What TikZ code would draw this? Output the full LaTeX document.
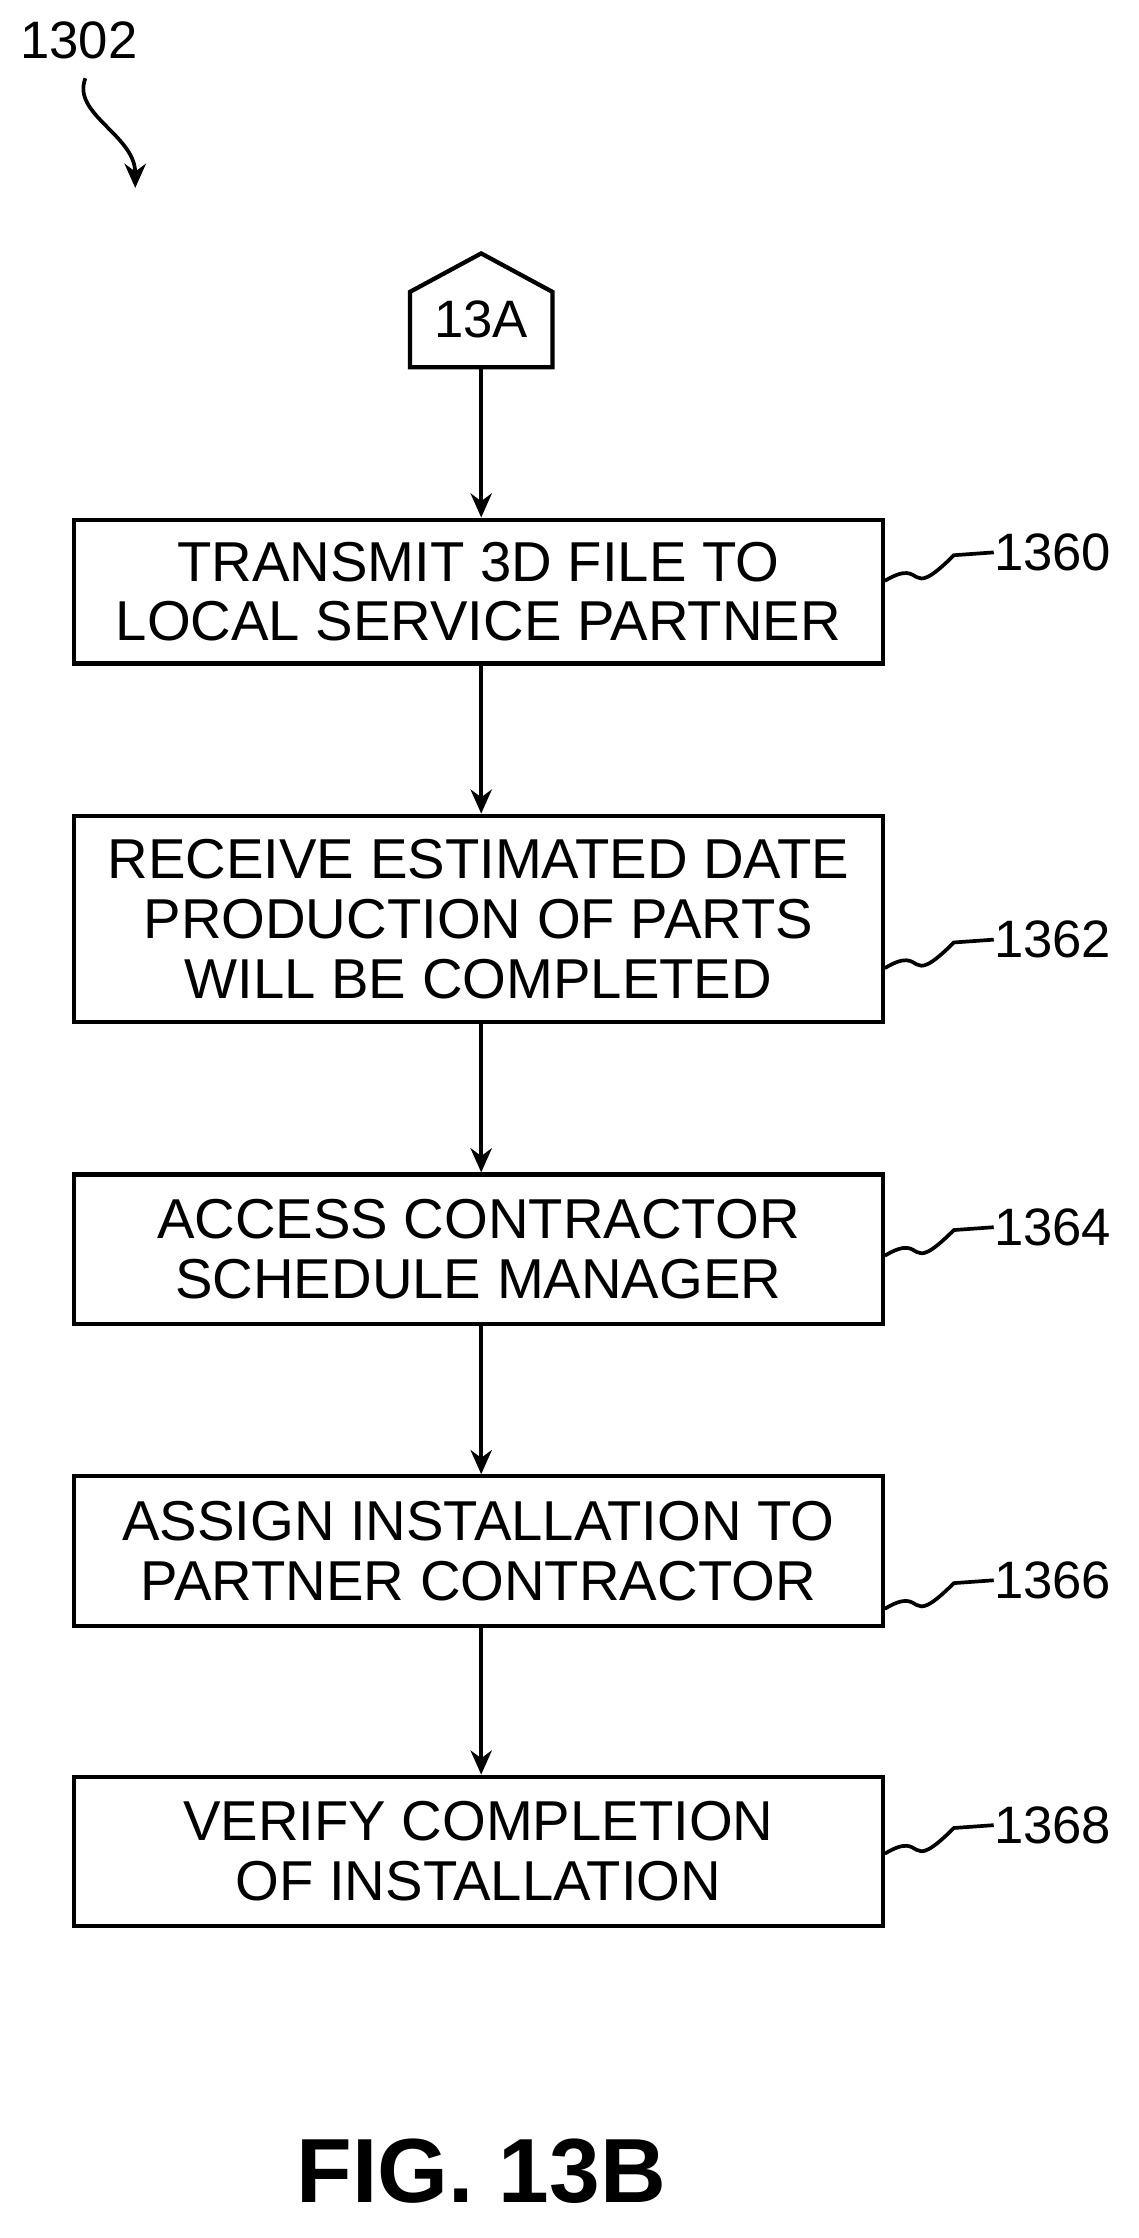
\documentclass[tikz,border=0pt]{standalone}
\usepackage{fontspec}
\setmainfont{Liberation Sans}
\usetikzlibrary{arrows.meta}
\begin{document}
\begin{tikzpicture}[x=1pt,y=-1pt,
  box/.style={draw,line width=3pt,minimum width=568pt,align=center,inner sep=0pt,
    font=\fontsize{39.5}{42}\selectfont},
  arr/.style={line width=2.6pt,-{Stealth[length=17pt,width=15pt]}},
  lead/.style={line width=2.6pt},
  lab/.style={font=\fontsize{37}{40}\selectfont,anchor=west,inner sep=0pt}]
\useasboundingbox (0,0) rectangle (800,1572);
\node[lab] (n1302) at (14,28) {1302};
\coordinate (a1) at (60,55);
\coordinate (a2) at (95,132);
\draw[arr] (a1) .. controls (50,80) and (95,95) .. (a2);
\draw[line width=3pt] (288,205) -- (338,178) -- (388,205) -- (388,258) -- (288,258) -- cycle;
\node[font=\fontsize{37}{40}\selectfont] (c13a) at (338,224) {13A};
\coordinate (c13b) at (338,258);
\node[box,minimum height=101pt] (b1) at (336,415.5) {TRANSMIT 3D FILE TO\\LOCAL SERVICE PARTNER};
\node[box,minimum height=145pt] (b2) at (336,645.5) {RECEIVE ESTIMATED DATE\\PRODUCTION OF PARTS\\WILL BE COMPLETED};
\node[box,minimum height=105pt] (b3) at (336,877.5) {ACCESS CONTRACTOR\\SCHEDULE MANAGER};
\node[box,minimum height=105pt] (b4) at (336,1089.5) {ASSIGN INSTALLATION TO\\PARTNER CONTRACTOR};
\node[box,minimum height=105pt] (b5) at (336,1300.5) {VERIFY COMPLETION\\OF INSTALLATION};
\draw[arr] (c13b) -- (b1.north -| c13b);
\draw[arr] (b1.south -| c13b) -- (b2.north -| c13b);
\draw[arr] (b2.south -| c13b) -- (b3.north -| c13b);
\draw[arr] (b3.south -| c13b) -- (b4.north -| c13b);
\draw[arr] (b4.south -| c13b) -- (b5.north -| c13b);
\foreach \b/\t/\y in {b1/1360/388,b2/1362/660,b3/1364/862,b4/1366/1110,b5/1368/1282}{
  \node[lab] (l\t) at (698,\y) {\t};
  \draw[lead] (\b.east |- 0,\y+20) .. controls ++(30,-18) and ++(-35,35) .. (670,\y+2) -- (l\t.west);
}
\node[font=\bfseries\fontsize{64}{66}\selectfont] (fig) at (338,1525) {FIG. 13B};
\end{tikzpicture}
\end{document}
